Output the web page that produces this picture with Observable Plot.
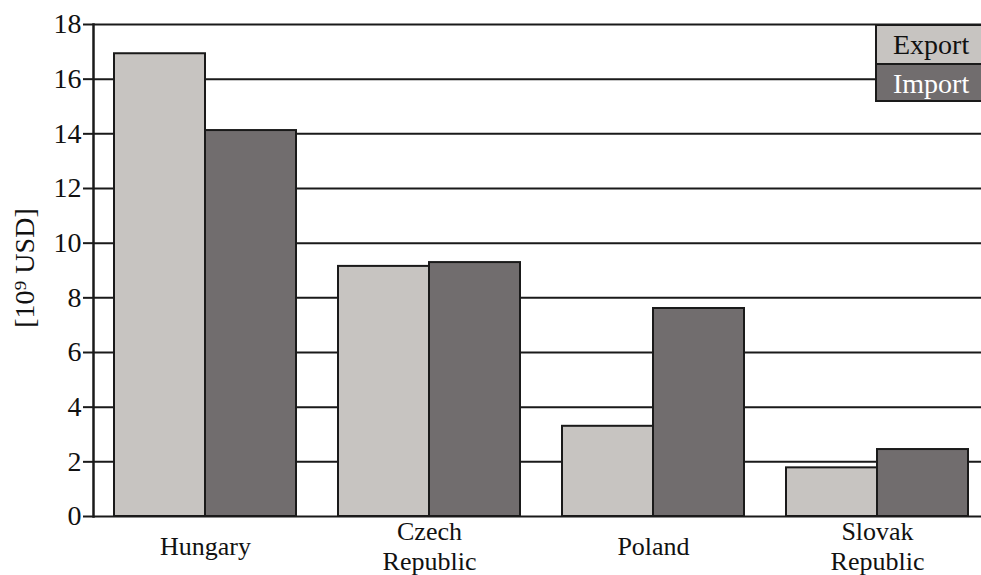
<!DOCTYPE html>
<html>
<head>
<meta charset="utf-8">
<script src="https://cdn.jsdelivr.net/npm/d3@7"></script>
<script src="https://cdn.jsdelivr.net/npm/@observablehq/plot@0.6"></script>
<style>
  html, body { margin: 0; padding: 0; background: #fff; overflow: hidden; }
  #wrap { position: relative; width: 981px; height: 575px; overflow: hidden; font-family: "Liberation Serif", "DejaVu Serif", "Times New Roman", serif; }
  #chart { position: absolute; left: 0; top: 0; width: 981px; height: 575px; overflow: hidden; }
  #ylabel { position: absolute; left: 25px; top: 268px; transform: translate(-50%, -50%) rotate(-90deg); font-size: 28px; white-space: nowrap; color: #111; }
  #legend { position: absolute; left: 875px; top: 24px; width: 120px; border: 2px solid #1a1a1a; box-sizing: border-box; }
  #legend div { height: 37px; line-height: 37px; font-size: 28px; text-align: left; padding-left: 16px; box-sizing: border-box; }
  #legend div + div { border-top: 2px solid #1a1a1a; }
</style>
</head>
<body>
<div id="wrap">
  <div id="chart"></div>
  <div id="ylabel"></div>
  <div id="legend"></div>
</div>
<script>
const countries = ["Hungary", "Czech Republic", "Poland", "Slovak Republic"];
const countryLabels = ["Hungary", "Czech\nRepublic", "Poland", "Slovak\nRepublic"];
const series = ["Export", "Import"];
const exportValues = [16.93, 9.15, 3.30, 1.78];
const importValues = [14.12, 9.29, 7.61, 2.45];
const yTicks = [0, 2, 4, 6, 8, 10, 12, 14, 16, 18];
const seriesColors = ["#c7c4c1", "#716d6e"];
const seriesTextColors = ["#111", "#fff"];
const yLabel = "[10\u2079 USD]";

const fontStack = "'Liberation Serif', 'DejaVu Serif', 'Times New Roman', serif";

const data = countries.flatMap((c, i) => [
  {country: c, series: "Export", value: exportValues[i]},
  {country: c, series: "Import", value: importValues[i]}
]);

const chart = Plot.plot({
  width: 981,
  height: 575,
  marginLeft: 92,
  marginRight: -8,
  marginTop: 24,
  marginBottom: 59,
  style: {fontFamily: fontStack, fontSize: "28px", background: "transparent", color: "#111", overflow: "hidden"},
  fx: {domain: countries, padding: 0, axis: null, label: null},
  x: {domain: series, paddingInner: 0, paddingOuter: 0.23, axis: null},
  y: {domain: [0, 18], axis: null},
  color: {domain: series, range: seriesColors},
  marks: [
    Plot.ruleY(yTicks, {stroke: "#1a1a1a", strokeWidth: 2}),
    Plot.barY(data, {fx: "country", x: "series", y: "value", fill: "series", stroke: "#1a1a1a", strokeWidth: 2}),
    Plot.axisY({ticks: yTicks, tickSize: 10, tickPadding: 2, label: null, stroke: "#1a1a1a", strokeWidth: 2, fontSize: 28, fill: "#111", fontFamily: fontStack}),
    Plot.frame({anchor: "left", facetAnchor: "left", stroke: "#1a1a1a", strokeWidth: 2.5}),
    Plot.text(countries, {fx: d => d, text: (d, i) => countryLabels[i], frameAnchor: "bottom", lineAnchor: "middle", lineHeight: 1.15, dy: 28.5, fontSize: 26, fill: "#111", fontFamily: fontStack})
  ]
});
document.getElementById("chart").appendChild(chart);

document.getElementById("ylabel").textContent = yLabel;
const legend = document.getElementById("legend");
series.forEach((s, i) => {
  const row = document.createElement("div");
  row.textContent = s;
  row.style.background = seriesColors[i];
  row.style.color = seriesTextColors[i];
  legend.appendChild(row);
});
</script>
</body>
</html>
